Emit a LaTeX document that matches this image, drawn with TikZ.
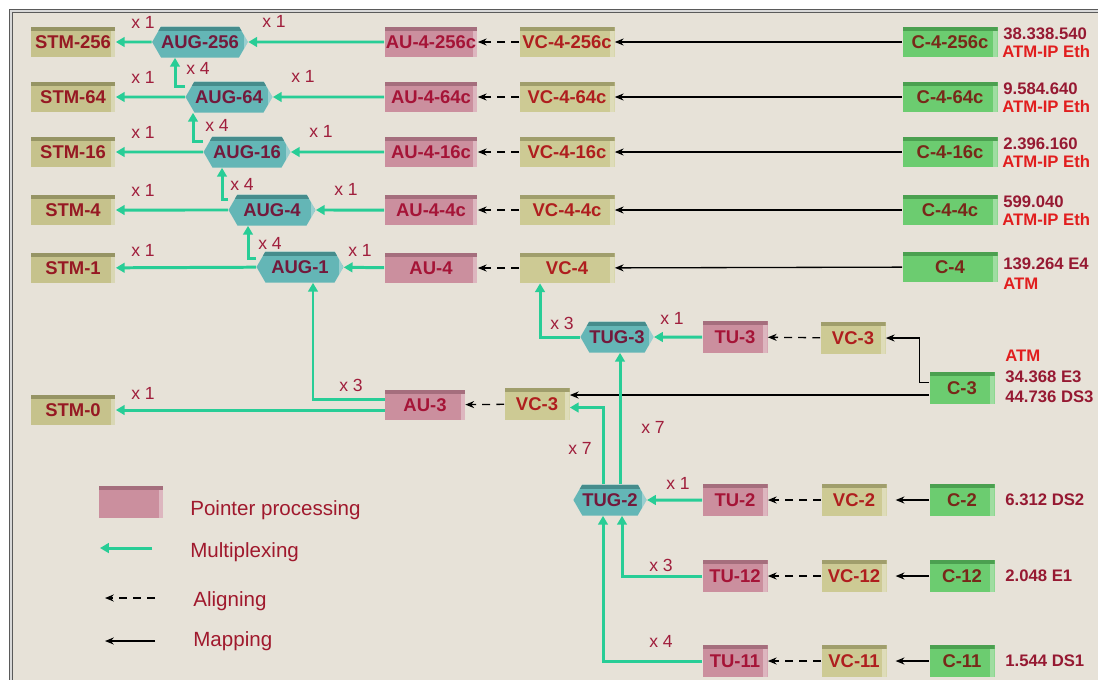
\documentclass[tikz,border=0pt]{standalone}
\usepackage{fontspec}
\setmainfont{Liberation Sans}
\usetikzlibrary{arrows.meta,positioning,shapes.symbols}
\definecolor{bgcol}{RGB}{231,226,216}
\definecolor{framecol}{RGB}{90,90,90}
\definecolor{stmfill}{RGB}{198,194,140}
\definecolor{stmtop}{RGB}{150,148,100}
\definecolor{vcfill}{RGB}{205,202,148}
\definecolor{vctop}{RGB}{160,158,108}
\definecolor{aufill}{RGB}{203,143,158}
\definecolor{autop}{RGB}{165,110,125}
\definecolor{cfill}{RGB}{108,204,112}
\definecolor{ctop}{RGB}{75,160,80}
\definecolor{hexfill}{RGB}{100,182,182}
\definecolor{hextop}{RGB}{70,140,140}
\definecolor{muxgreen}{RGB}{40,205,150}
\definecolor{stmtxt}{RGB}{150,25,35}
\definecolor{augtxt}{RGB}{115,25,60}
\definecolor{autxt}{RGB}{165,20,55}
\definecolor{vctxt}{RGB}{175,30,30}
\definecolor{ctxt}{RGB}{120,40,25}
\definecolor{lbltxt}{RGB}{160,30,60}
\definecolor{ratetxt}{RGB}{150,25,50}
\definecolor{atmred}{RGB}{225,30,30}
\definecolor{legtxt}{RGB}{160,25,45}

\begin{document}
\begin{tikzpicture}[x=0.02cm, y=-0.02cm,
  bevel/.style={path picture={
    \fill[#1] (path picture bounding box.north west) rectangle ([yshift=-2.5pt]path picture bounding box.north east);
    \fill[white, opacity=.35] ([xshift=-2.5pt,yshift=-2.5pt]path picture bounding box.north east) rectangle (path picture bounding box.south east);}},
  box/.style={rectangle, inner sep=0pt, minimum height=0.6cm, font=\bfseries\fontsize{10.5}{12}\selectfont},
  narrow/.style={minimum width=1.3cm, minimum height=0.64cm},
  stmbox/.style={box, fill=stmfill, bevel=stmtop, text=stmtxt, minimum width=1.7cm},
  aubox/.style={box, fill=aufill, bevel=autop, text=autxt, minimum width=1.86cm},
  vcbox/.style={box, fill=vcfill, bevel=vctop, text=vctxt, minimum width=1.9cm},
  cbox/.style={box, fill=cfill, bevel=ctop, text=ctxt, minimum width=1.9cm},
  tubox/.style={aubox, narrow},
  hexbox/.style={signal, signal to=west and east, signal pointer angle=120, inner sep=0pt,
    minimum width=1.74cm, minimum height=0.62cm, fill=hexfill, bevel=hextop, text=augtxt,
    font=\bfseries\fontsize{10.5}{12}\selectfont},
  mux/.style={draw=muxgreen, line width=1.7pt, -{Triangle[length=5pt,width=5.5pt]}},
  alignarr/.style={draw=black, line width=0.75pt, dash pattern=on 4.5pt off 3.5pt, -{Stealth[length=5pt,width=4pt]}},
  mapping/.style={draw=black, line width=0.75pt, -{Stealth[length=5pt,width=4pt]}},
  lbl/.style={text=lbltxt, inner sep=0pt, font=\fontsize{10}{12}\selectfont},
  rate/.style={anchor=west, text=ratetxt, inner sep=0pt, font=\bfseries\fontsize{9.5}{11}\selectfont},
  atm/.style={rate, text=atmred},
  legtext/.style={anchor=west, text=legtxt, inner sep=0pt, font=\fontsize{11.7}{13}\selectfont}]
% paper and frame
\fill[white] (0,0) rectangle (1098,680);
\useasboundingbox (0,0) rectangle (1098,680);
\fill[bgcol] (11,11) rectangle (1098,680);
\draw[framecol, double=white!70!gray, double distance=1pt, line width=0.6pt] (1098,11) -- (11,11) -- (11,680);
% the four concatenated VC-4 rows
\foreach \n/\y/\ax/\rt in {256/42/200/38.338.540, 64/97/229/9.584.640, 16/152/247/2.396.160, 4/210/272/599.040} {
  \node[stmbox] (stm\n) at (73,\y) {STM-\n};
  \node[hexbox] (aug\n) at (\ax,\y) {AUG-\n};
  \node[aubox] (auc\n) at (431,\y) {AU-4-\n{}c};
  \node[vcbox] (vcc\n) at (567,\y) {VC-4-\n{}c};
  \node[cbox] (cc\n) at (950,\y) {C-4-\n{}c};
  \node[rate] at (1003,\y-8) {\rt};
  \node[atm] at (1002,\y+10) {ATM-IP Eth};
  \draw[mux] (aug\n) -- (stm\n);
  \draw[mux] (auc\n) -- (aug\n);
  \draw[alignarr] (vcc\n) -- (auc\n);
  \draw[mapping] (cc\n) -- (vcc\n);
  \node[lbl] at (143,\y-20) {x 1};
  \node[lbl] at (\ax+74,\y-21) {x 1};
}
% VC-4 row
\node[stmbox] (stm1) at (73,268) {STM-1};
\node[hexbox] (aug1) at (300,267) {AUG-1};
\node[aubox] (au4) at (431,268) {AU-4};
\node[vcbox] (vc4) at (567,268) {VC-4};
\node[cbox] (c4) at (950,267) {C-4};
\node[rate] at (1003,264) {139.264 E4};
\node[atm] at (1003,284) {ATM};
\draw[mux] (aug1) -- (stm1);
\draw[mux] (au4) -- (aug1);
\draw[alignarr] (vc4) -- (au4);
\draw[mapping] (c4) -- (vc4);
\node[lbl] at (143,250) {x 1};
\node[lbl] at (360,250) {x 1};
% the AUG chain
\draw[mux] ([yshift=6pt]aug64.west) -| ([xshift=-0.5cm]aug256.south);
\draw[mux] ([yshift=6pt]aug16.west) -| ([xshift=-0.72cm]aug64.south);
\draw[mux] ([yshift=6pt]aug4.west) -| ([xshift=-0.5cm]aug16.south);
\draw[mux] ([yshift=5pt]aug1.west) -| ([xshift=-0.48cm]aug4.south);
\node[lbl] at (198,68) {x 4};
\node[lbl] at (217,125) {x 4};
\node[lbl] at (242,184) {x 4};
\node[lbl] at (270,243) {x 4};
% VC-3 / AU-3
\node[stmbox] (stm0) at (73,410) {STM-0};
\node[aubox, minimum width=1.6cm] (au3) at (425,405) {AU-3};
\node[vcbox, narrow] (vc3a) at (537,404) {VC-3};
\draw[mux] ([yshift=3pt]au3.west) -| ([xshift=0.26cm]aug1.south);
\draw[mux] (au3.west |- stm0.east) -- (stm0.east);
\draw[alignarr] (vc3a) -- (au3);
\node[lbl] at (351,385) {x 3};
\node[lbl] at (143,393) {x 1};
% TUG-3 branch
\node[hexbox, minimum width=1.34cm] (tug3) at (617,337) {TUG-3};
\node[tubox] (tu3) at (735,337) {TU-3};
\node[vcbox, narrow] (vc3b) at (853,338) {VC-3};
\node[cbox, narrow] (c3) at (962,388) {C-3};
\node[atm] at (1005,356) {ATM};
\node[rate] at (1005,377) {34.368 E3};
\node[rate] at (1005,397) {44.736 DS3};
\draw[mux] (tu3) -- (tug3);
\draw[mux] (tug3.west) -| ([xshift=-0.54cm]vc4.south);
\draw[alignarr] (vc3b) -- (tu3);
\draw[mapping] ([yshift=3pt]c3.west) -- ++(-10,0) |- (vc3b.east);
\coordinate (c3lo) at ([yshift=-4pt]c3.west);
\draw[mapping] (c3lo) -- (c3lo -| vc3a.east);
\node[lbl] at (562,323) {x 3};
\node[lbl] at (672,318) {x 1};
% TUG-2 branch
\node[hexbox, minimum width=1.34cm] (tug2) at (610,500) {TUG-2};
\foreach \k/\y/\rt in {2/500/6.312 DS2, 12/576/2.048 E1, 11/661/1.544 DS1} {
  \node[tubox] (tu\k) at (735,\y) {TU-\k};
  \node[vcbox, narrow] (vc\k) at (854,\y) {VC-\k};
  \node[cbox, narrow] (c\k) at (962,\y) {C-\k};
  \node[rate] at (1005,\y) {\rt};
  \draw[alignarr] (vc\k) -- (tu\k);
  \draw[mapping, shorten >=5pt] (c\k) -- (vc\k);
}
\coordinate (t2up) at ([xshift=0.2cm]tug2.north);
\draw[mux] (t2up) -- (t2up |- tug3.south);
\draw[mux] ([xshift=-0.14cm]tug2.north) |- ([yshift=-2pt]vc3a.east);
\draw[mux] (tu2) -- (tug2);
\draw[mux] (tu12.west) -| ([xshift=0.24cm]tug2.south);
\draw[mux] (tu11.west) -| ([xshift=-0.14cm]tug2.south);
\node[lbl] at (653,427) {x 7};
\node[lbl] at (580,448) {x 7};
\node[lbl] at (678,483) {x 1};
\node[lbl] at (661,565) {x 3};
\node[lbl] at (661,641) {x 4};
% legend
\node[tubox] (legpp) at (131,502) {};
\node[legtext] at (190,510) {Pointer processing};
\coordinate (legmuxa) at (152,548);
\coordinate (legmuxb) at (100,548);
\draw[mux] (legmuxa) -- (legmuxb);
\node[legtext] at (190,552) {Multiplexing};
\coordinate (legala) at (155,598);
\coordinate (legalb) at (105,598);
\draw[alignarr] (legala) -- (legalb);
\node[legtext] at (193,601) {Aligning};
\coordinate (legmapa) at (155,641);
\coordinate (legmapb) at (105,641);
\draw[mapping] (legmapa) -- (legmapb);
\node[legtext] at (193,641) {Mapping};
\end{tikzpicture}
\end{document}
